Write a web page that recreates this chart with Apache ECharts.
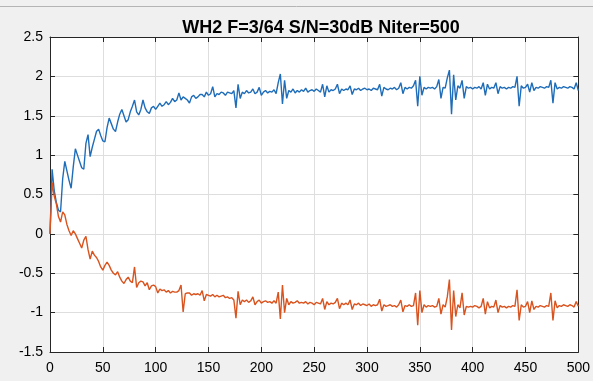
<!DOCTYPE html>
<html>
<head>
<meta charset="utf-8">
<script src="https://cdn.jsdelivr.net/npm/echarts@6/dist/echarts.min.js"></script>
<style>
html,body{margin:0;padding:0;background:#f0f0f0;}
#chart{width:593px;height:381px;}
</style>
</head>
<body>
<div id="chart"></div>
<script>
const titleText = 'WH2 F=3/64 S/N=30dB Niter=500';
const iterStep = 2; // one stored value every 2 iterations (t = 0, 2, ..., 500)
const xTickValues = [0, 50, 100, 150, 200, 250, 300, 350, 400, 450, 500];
const yTickValues = [-1.5, -1, -0.5, 0, 0.5, 1, 1.5, 2, 2.5];

const blueValues = [
  0.00,0.82,0.55,0.40,0.30,0.28,0.70,0.92,0.80,0.68,
  0.58,0.85,1.08,1.00,0.92,0.84,0.82,1.15,1.26,0.98,
  1.10,1.20,1.30,1.33,1.25,1.18,1.17,1.35,1.47,1.40,
  1.33,1.30,1.42,1.52,1.58,1.50,1.42,1.45,1.55,1.62,
  1.70,1.55,1.51,1.58,1.70,1.60,1.55,1.53,1.60,1.62,
  1.58,1.62,1.66,1.62,1.64,1.68,1.64,1.67,1.72,1.68,
  1.70,1.79,1.70,1.74,1.72,1.70,1.66,1.74,1.76,1.72,
  1.74,1.77,1.77,1.74,1.80,1.76,1.78,1.87,1.74,1.78,
  1.77,1.80,1.79,1.76,1.80,1.79,1.78,1.82,1.60,1.90,
  1.72,1.80,1.78,1.82,1.79,1.80,1.84,1.78,1.80,1.86,
  1.76,1.80,1.82,1.79,1.81,1.80,1.83,1.78,1.92,2.03,
  1.65,1.95,1.72,1.82,1.80,1.84,1.79,1.82,1.80,1.83,
  1.81,1.85,1.80,1.82,1.83,1.81,1.84,1.82,1.80,1.90,
  1.74,1.88,1.80,1.83,1.82,1.84,1.90,1.78,1.84,1.82,
  1.84,1.83,1.88,1.77,1.84,1.83,1.85,1.82,1.84,1.85,
  1.83,1.84,1.82,1.85,1.84,1.83,1.90,1.75,1.86,1.84,
  1.83,1.85,1.84,1.86,1.83,1.85,1.92,1.78,1.86,1.84,
  1.86,1.85,1.88,1.95,1.62,2.00,1.76,1.86,1.84,1.86,
  1.85,1.86,1.84,1.87,1.96,1.72,1.86,1.85,1.98,2.08,
  1.52,2.02,1.70,1.88,1.85,1.95,1.72,1.87,1.85,1.86,
  1.84,1.86,1.85,1.87,1.84,1.92,1.76,1.90,1.84,1.86,
  1.85,1.92,1.78,1.87,1.85,1.86,1.84,1.86,1.85,1.87,
  1.86,2.00,1.62,1.88,1.85,1.86,1.90,1.80,1.92,1.82,
  1.86,1.85,1.87,1.86,1.85,1.87,1.86,1.95,1.66,1.92,
  1.84,1.86,1.85,1.87,1.86,1.85,1.87,1.86,1.84,1.92,
  1.82
];

const redValues = [
  0.00,0.65,0.48,0.38,0.22,0.15,0.28,0.24,0.12,0.04,
  -0.02,0.04,0.00,-0.06,-0.12,-0.18,-0.08,-0.03,-0.20,-0.32,
  -0.22,-0.27,-0.30,-0.35,-0.42,-0.46,-0.40,-0.36,-0.40,-0.46,
  -0.50,-0.52,-0.48,-0.55,-0.60,-0.63,-0.58,-0.55,-0.60,-0.62,
  -0.42,-0.68,-0.62,-0.60,-0.61,-0.66,-0.62,-0.71,-0.66,-0.65,
  -0.67,-0.75,-0.70,-0.72,-0.71,-0.74,-0.72,-0.75,-0.73,-0.74,
  -0.74,-0.72,-0.65,-0.99,-0.76,-0.75,-0.75,-0.78,-0.76,-0.77,
  -0.76,-0.78,-0.72,-0.85,-0.77,-0.78,-0.79,-0.77,-0.80,-0.78,
  -0.80,-0.79,-0.78,-0.81,-0.80,-0.82,-0.81,-0.84,-1.07,-0.73,
  -0.90,-0.84,-0.86,-0.84,-0.87,-0.85,-0.80,-0.90,-0.86,-0.84,
  -0.88,-0.86,-0.85,-0.87,-0.86,-0.88,-0.85,-0.88,-0.74,-1.08,
  -0.65,-1.00,-0.82,-0.90,-0.86,-0.88,-0.87,-0.85,-0.88,-0.87,
  -0.88,-0.86,-0.89,-0.87,-0.88,-0.90,-0.87,-0.88,-0.89,-0.82,
  -0.96,-0.86,-0.90,-0.88,-0.89,-0.87,-0.82,-0.95,-0.88,-0.90,
  -0.88,-0.90,-0.84,-0.96,-0.89,-0.90,-0.88,-0.91,-0.89,-0.90,
  -0.91,-0.89,-0.92,-0.90,-0.91,-0.90,-0.83,-0.98,-0.90,-0.92,
  -0.91,-0.90,-0.92,-0.91,-0.93,-0.90,-0.84,-0.99,-0.91,-0.92,
  -0.90,-0.92,-0.91,-0.75,-1.16,-0.72,-1.00,-0.90,-0.93,-0.91,
  -0.92,-0.91,-0.93,-0.92,-0.82,-1.02,-0.90,-0.93,-0.80,-0.58,
  -1.22,-0.72,-1.05,-0.90,-0.94,-0.75,-1.03,-0.92,-0.93,-0.92,
  -0.93,-0.91,-0.92,-0.94,-0.92,-0.82,-1.02,-0.86,-0.94,-0.92,
  -0.93,-0.84,-1.00,-0.91,-0.93,-0.92,-0.94,-0.92,-0.93,-0.91,
  -0.92,-0.71,-1.10,-0.90,-0.93,-0.92,-0.86,-1.00,-0.85,-0.96,
  -0.92,-0.93,-0.91,-0.92,-0.93,-0.91,-0.92,-0.75,-1.10,-0.85,
  -0.94,-0.91,-0.92,-0.90,-0.91,-0.92,-0.90,-0.91,-0.93,-0.86,
  -0.92
];

const blueData = blueValues.map((v, i) => [i * iterStep, v]);
const redData = redValues.map((v, i) => [i * iterStep, v]);

const xMin = xTickValues[0], xMax = xTickValues[xTickValues.length - 1];
const yMin = yTickValues[0], yMax = yTickValues[yTickValues.length - 1];

const axisColor = '#262626';
const font = 'Liberation Sans, Arial, Helvetica, sans-serif';

const chart = echarts.init(document.getElementById('chart'), null, {renderer: 'canvas'});
chart.setOption({
  animation: false,
  backgroundColor: '#f0f0f0',
  title: {
    text: titleText,
    left: 316, top: 14, textAlign: 'center',
    textStyle: {fontFamily: font, fontSize: 18, fontWeight: 'bold', color: '#000'}
  },
  graphic: [{
    type: 'line', silent: true,
    shape: {x1: 0, y1: 6.5, x2: 593, y2: 6.5},
    style: {stroke: '#b4b4b4', lineWidth: 1}
  }],
  grid: {left: 50, right: 11, top: 37, bottom: 29, show: true, backgroundColor: '#ffffff', borderWidth: 0},
  xAxis: [{
    type: 'value', min: xMin, max: xMax, interval: 50, position: 'bottom',
    axisLine: {show: true, onZero: false, lineStyle: {color: axisColor, width: 1}},
    axisTick: {show: true, inside: true, length: 5, lineStyle: {color: axisColor}},
    axisLabel: {color: '#000', fontFamily: font, fontSize: 14, margin: 9},
    splitLine: {show: true, lineStyle: {color: '#dedede', width: 1}}
  }, {
    type: 'value', min: xMin, max: xMax, interval: 50, position: 'top',
    axisLine: {show: true, onZero: false, lineStyle: {color: axisColor, width: 1}},
    axisTick: {show: true, inside: true, length: 5, lineStyle: {color: axisColor}},
    axisLabel: {show: false},
    splitLine: {show: false}
  }],
  yAxis: [{
    type: 'value', min: yMin, max: yMax, interval: 0.5, position: 'left',
    axisLine: {show: true, onZero: false, lineStyle: {color: axisColor, width: 1}},
    axisTick: {show: true, inside: true, length: 5, lineStyle: {color: axisColor}},
    axisLabel: {color: '#000', fontFamily: font, fontSize: 14, margin: 7},
    splitLine: {show: true, lineStyle: {color: '#dedede', width: 1}}
  }, {
    type: 'value', min: yMin, max: yMax, interval: 0.5, position: 'right',
    axisLine: {show: true, onZero: false, lineStyle: {color: axisColor, width: 1}},
    axisTick: {show: true, inside: true, length: 5, lineStyle: {color: axisColor}},
    axisLabel: {show: false},
    splitLine: {show: false}
  }],
  series: [{
    name: 'blue', type: 'line', data: blueData, xAxisIndex: 0, yAxisIndex: 0,
    showSymbol: false, symbol: 'none', sampling: null,
    lineStyle: {color: '#1f6db8', width: 1.4}, z: 3
  }, {
    name: 'red', type: 'line', data: redData, xAxisIndex: 0, yAxisIndex: 0,
    showSymbol: false, symbol: 'none', sampling: null,
    lineStyle: {color: '#d9531e', width: 1.4}, z: 4
  }]
});
</script>
</body>
</html>
